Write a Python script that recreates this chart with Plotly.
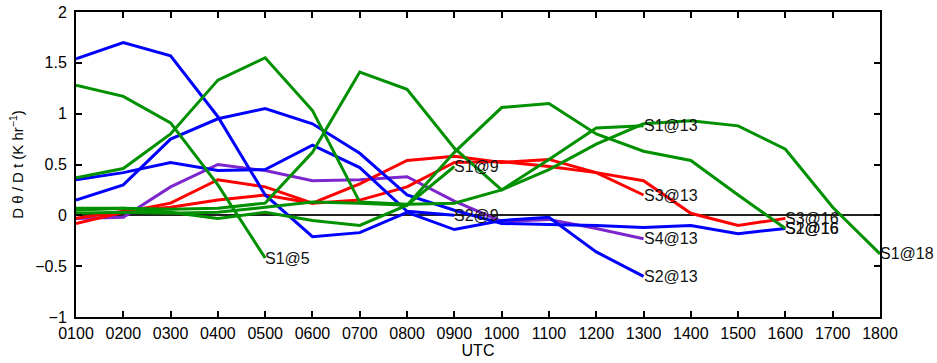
import plotly.graph_objects as go

HOURS = list(range(1, 19))
TICK_LABELS = ["0100", "0200", "0300", "0400", "0500", "0600", "0700", "0800", "0900",
               "1000", "1100", "1200", "1300", "1400", "1500", "1600", "1700", "1800"]
Y_TICKS = [-1, -0.5, 0, 0.5, 1, 1.5, 2]
Y_TICK_LABELS = ["\u22121", "\u22120.5", "0", "0.5", "1", "1.5", "2"]

s1_5 = [1.28, 1.17, 0.91, 0.30, -0.42]
s1_9 = [0.05, 0.07, 0.03, -0.03, 0.03, -0.05, -0.10, 0.10, 0.48]
s1_13 = [0.07, 0.07, 0.06, 0.07, 0.12, 0.62, 1.41, 1.24, 0.66, 0.25, 0.55, 0.86, 0.88]
s1_16 = [0.02, 0.03, 0.02, 0.03, 0.08, 0.13, 0.12, 0.10, 0.62, 1.06, 1.10, 0.80, 0.63,
         0.54, 0.20, -0.13]
s1_18 = [0.37, 0.46, 0.80, 1.33, 1.55, 1.03, 0.13, 0.11, 0.12, 0.25, 0.45, 0.70, 0.90,
         0.93, 0.88, 0.65, 0.08, -0.38]
s2_9 = [0.35, 0.42, 0.52, 0.44, 0.45, 0.69, 0.47, 0.04, 0.00]
s2_13 = [1.54, 1.70, 1.57, 0.97, 0.20, -0.21, -0.17, 0.03, -0.14, -0.05, -0.02, -0.36, -0.60]
s2_16 = [0.15, 0.30, 0.75, 0.95, 1.05, 0.90, 0.61, 0.20, 0.05, -0.08, -0.09, -0.10, -0.12,
         -0.10, -0.18, -0.13]
s3_13 = [-0.08, 0.03, 0.12, 0.35, 0.28, 0.12, 0.31, 0.54, 0.58, 0.52, 0.55, 0.42, 0.20]
s3_16 = [-0.03, 0.04, 0.08, 0.15, 0.20, 0.12, 0.15, 0.28, 0.52, 0.53, 0.48, 0.42, 0.34,
         0.02, -0.10, -0.03]
s4_13 = [-0.03, -0.02, 0.28, 0.50, 0.44, 0.34, 0.35, 0.38, 0.14, -0.06, -0.04, -0.13, -0.23]

GREEN = "#009000"
BLUE = "#0000ff"
RED = "#ff0000"
PURPLE = "#7d26cd"

SERIES = [
    ("S4@13", s4_13, PURPLE),
    ("S3@13", s3_13, RED),
    ("S3@16", s3_16, RED),
    ("S2@9", s2_9, BLUE),
    ("S2@13", s2_13, BLUE),
    ("S2@16", s2_16, BLUE),
    ("S1@5", s1_5, GREEN),
    ("S1@9", s1_9, GREEN),
    ("S1@13", s1_13, GREEN),
    ("S1@16", s1_16, GREEN),
    ("S1@18", s1_18, GREEN),
]

FONT = "Liberation Sans, Arial, Helvetica, sans-serif"

fig = go.Figure()
annotations = []
for name, vals, color in SERIES:
    xs = HOURS[:len(vals)]
    fig.add_trace(go.Scatter(x=xs, y=vals, mode="lines", name=name,
                             line=dict(color=color, width=3), showlegend=False,
                             cliponaxis=False))
    annotations.append(dict(x=xs[-1], y=vals[-1], text=name, showarrow=False,
                            xanchor="left", yanchor="middle", xshift=-2,
                            font=dict(family=FONT, size=16, color="#111111")))

fig.update_layout(
    width=937, height=363,
    margin=dict(l=76, r=57, t=12, b=46, autoexpand=False),
    paper_bgcolor="white", plot_bgcolor="white",
    font=dict(family=FONT, size=16, color="black"),
    annotations=annotations,
    xaxis=dict(range=[1, 18], tickvals=HOURS, ticktext=TICK_LABELS,
               ticks="inside", ticklen=6, tickwidth=1.5, tickcolor="black",
               showline=True, linewidth=2, linecolor="black", mirror="ticks",
               showgrid=False, zeroline=False, tickfont=dict(size=16),
               ticklabelstandoff=1, automargin=False,
               title=dict(text="UTC", font=dict(size=16), standoff=2)),
    yaxis=dict(range=[-1, 2], tickvals=Y_TICKS, ticktext=Y_TICK_LABELS,
               ticks="inside", ticklen=6, tickwidth=1.5, tickcolor="black",
               showline=True, linewidth=2, linecolor="black", mirror="ticks",
               showgrid=False, zeroline=True, zerolinecolor="#222222", zerolinewidth=1.5,
               tickfont=dict(size=16), ticklabelstandoff=4, automargin=False,
               title=dict(text="D \u03b8 / D t (K hr<sup>\u22121</sup>)", font=dict(size=15),
                          standoff=8)),
)

fig.write_html("out.html")
